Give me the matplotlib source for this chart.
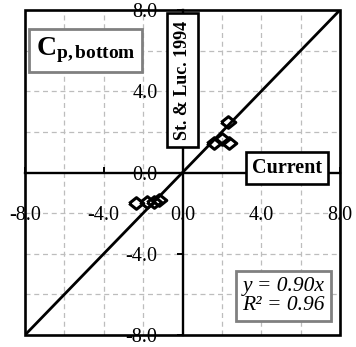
import matplotlib
matplotlib.use('Agg')
from matplotlib import pyplot as plt
from matplotlib.patches import Rectangle

plt.rcParams['font.family'] = ['Liberation Serif', 'DejaVu Serif']
plt.rcParams['mathtext.fontset'] = 'custom'
plt.rcParams['mathtext.rm'] = 'Liberation Serif'
plt.rcParams['mathtext.bf'] = 'Liberation Serif:bold'
plt.rcParams['mathtext.it'] = 'Liberation Serif:italic'

# pressure coefficients, current model vs St. & Luc. 1994
current = [1.6, 2.0, 2.35, 2.3, -2.35, -1.8, -1.45, -1.2]
st_luc = [1.45, 1.65, 1.45, 2.5, -1.5, -1.45, -1.45, -1.35]

ticks = [-8.0, -4.0, 0.0, 4.0, 8.0]
grid_ticks = [-6, -4, -2, 2, 4, 6]
lim = (-8, 8)

fig = plt.figure(figsize=(3.56, 3.47), dpi=100)
ax = fig.add_axes([25 / 356, 12 / 347, 315 / 356, 325 / 347])
ax.set_xlim(lim)
ax.set_ylim(lim)

# dashed grid every 2 units
for g in grid_ticks:
    ax.axvline(g, color='#bdbdbd', lw=0.9, ls=(0, (4, 3)), zorder=0)
    ax.axhline(g, color='#bdbdbd', lw=0.9, ls=(0, (4, 3)), zorder=0)

# axes through the origin, frame around everything
for side in ['left', 'bottom']:
    ax.spines[side].set_position(('data', 0))
    ax.spines[side].set_linewidth(1.7)
ax.spines['top'].set_visible(False)
ax.spines['right'].set_visible(False)
ax.add_patch(Rectangle((0, 0), 1, 1, transform=ax.transAxes, fill=False,
                       lw=1.9, ec='black', clip_on=False, zorder=5))

ax.set_xticks(ticks)
ax.set_yticks(ticks)
ax.set_xticklabels([f'{t:.1f}' for t in ticks])
ax.set_yticklabels([f'{t:.1f}' for t in ticks])
ax.tick_params(axis='x', direction='in', length=4, width=1.4, pad=24, labelsize=14.5)
ax.tick_params(axis='y', direction='out', length=4, width=1.4, pad=14, labelsize=14.5)

# 1:1 line
ax.plot(lim, lim, color='black', lw=2.0, zorder=3)

mk = [(-1, 0), (0, 0.8), (1, 0), (0, -0.8), (-1, 0)]
ax.plot(current, st_luc, ls='none', marker=mk, ms=10.5, mfc='none',
        mec='black', mew=2.2, zorder=4)

ax.text(0.192, 0.875, r'$\mathbf{C}_{\mathbf{p,bottom}}$', transform=ax.transAxes,
        ha='center', va='center', fontsize=20,
        bbox=dict(boxstyle='square,pad=0.25', fc='white', ec='#808080', lw=2))
ax.text(0.0, 4.55, 'St. & Luc. 1994', rotation=90, ha='center', va='center',
        fontsize=13, fontweight='bold', zorder=6,
        bbox=dict(boxstyle='square,pad=0.4', fc='white', ec='black', lw=1.9))
ax.text(5.3, 0.2, 'Current', ha='center', va='center', fontsize=14.5,
        fontweight='bold', zorder=6,
        bbox=dict(boxstyle='square,pad=0.3', fc='white', ec='black', lw=1.9))
ax.text(0.82, 0.12, 'y = 0.90x\nR² = 0.96', transform=ax.transAxes,
        ha='center', va='center', fontsize=15.5, style='italic', linespacing=1.0,
        bbox=dict(boxstyle='square,pad=0.3', fc='white', ec='#808080', lw=2))

fig.savefig('out.png', dpi=100)
